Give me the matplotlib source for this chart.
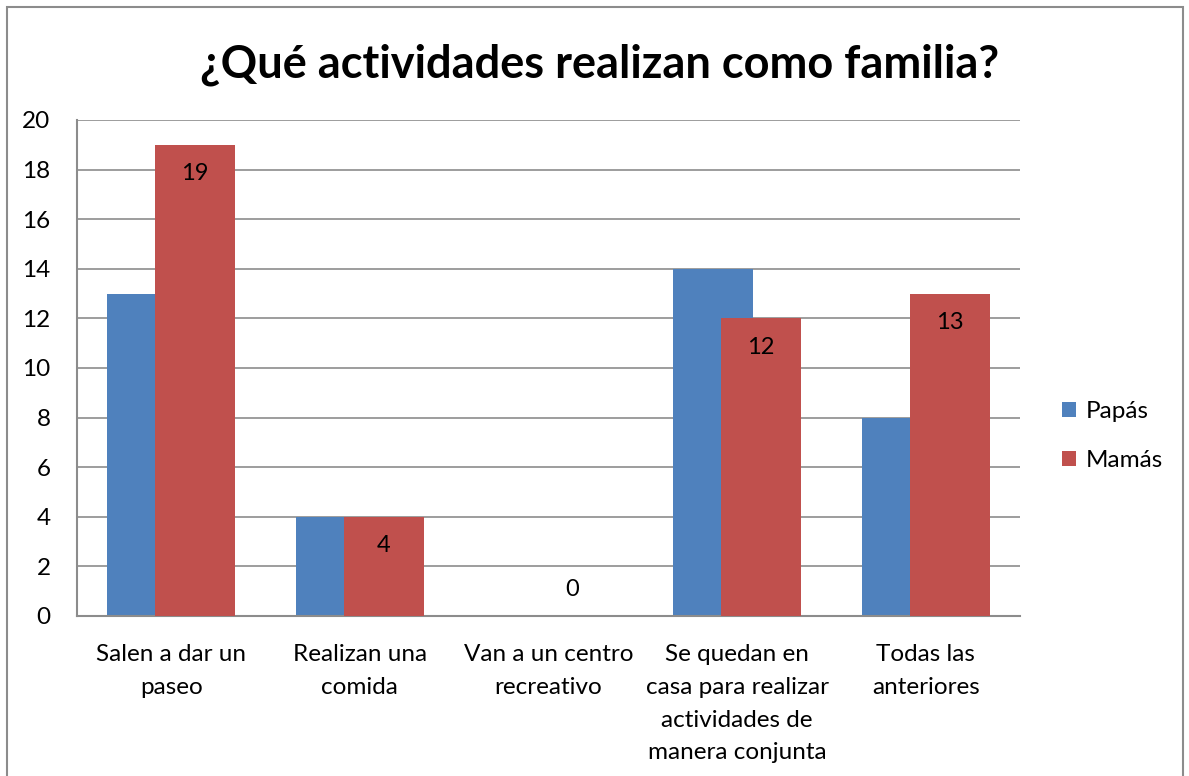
import matplotlib.pyplot as plt
import numpy as np
from matplotlib.patches import Rectangle

categories = ["Salen a dar un\npaseo", "Realizan una\ncomida", "Van a un centro\nrecreativo",
              "Se quedan en\ncasa para realizar\nactividades de\nmanera conjunta", "Todas las\nanteriores"]
papas = [13, 4, 0, 14, 8]
mamas = [19, 4, 0, 12, 13]

plt.rcParams['font.family'] = ['Lato', 'DejaVu Sans']

W, H = 1189, 776
fig = plt.figure(figsize=(W / 100, H / 100), dpi=100)

# outer chart border
fig.patches.append(Rectangle((7 / W, -0.01), (1183 - 7) / W, 1 - 7 / H + 0.01,
                             transform=fig.transFigure, fill=False, edgecolor='#8c8c8c', linewidth=1.5))

ax = fig.add_axes([77 / W, 1 - 616 / H, (1020 - 77) / W, (616 - 120) / H])

x = np.arange(len(categories))
width = 0.425
offset = 0.127
ax.bar(x - offset, papas, width, color='#4f81bd', label='Papás', zorder=2)
ax.bar(x + offset, mamas, width, color='#c0504d', label='Mamás', zorder=3)

for xi, v in zip(x, mamas):
    dy = -21 if v > 0 else 19
    ax.annotate(str(v), (xi + offset, v), xytext=(0, dy), textcoords='offset points',
                ha='center', va='center', fontsize=17, zorder=4)

ax.set_xlim(-0.5, len(categories) - 0.5)
ax.set_ylim(0, 20)
ax.set_yticks(np.arange(0, 21, 2))
ax.grid(axis='y', color='#8c8c8c', linewidth=1.2, zorder=0)
ax.set_axisbelow(True)
for s in ['top', 'right']:
    ax.spines[s].set_visible(False)
for s in ['left', 'bottom']:
    ax.spines[s].set_color('#8c8c8c')
    ax.spines[s].set_linewidth(1.5)
ax.set_xticks(x)
ax.set_xticklabels(categories, fontsize=17.5, linespacing=1.7)
ax.tick_params(axis='y', labelsize=17.5, length=0, pad=19)
ax.tick_params(axis='x', length=0, pad=20)

fig.text(600 / W, 1 - 65 / H, "¿Qué actividades realizan como familia?", ha='center', va='center',
         fontsize=32.5, fontweight='bold')

fig.legend(loc='center left', bbox_to_anchor=(1040 / W, 1 - 436 / H), frameon=False, fontsize=17.5,
           handlelength=0.6, handleheight=0.6, labelspacing=1.15, handletextpad=0.4)

fig.savefig('out.png', dpi=100)
